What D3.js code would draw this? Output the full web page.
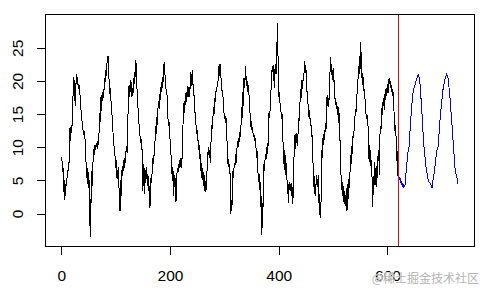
<!DOCTYPE html>
<html>
<head>
<meta charset="utf-8">
<script src="https://cdn.jsdelivr.net/npm/d3@7"></script>
<style>
  html, body { margin: 0; padding: 0; background: #fff; }
  svg { display: block; font-family: "Liberation Sans", Arial, sans-serif; }
</style>
</head>
<body>
<div id="chart"></div>
<script>
// observed weekly series (index 1..620)
const observed = [
  8.6, 6.2, 7.4, 3.2, 5.0, 2.0, 3.8, 2.6, 5.4, 4.2,
  6.6, 5.8, 7.8, 7.0, 10.4, 12.9, 11.0, 13.4, 12.2, 13.6,
  16.4, 19.0, 20.6, 17.0, 20.2, 16.2, 19.6, 21.1, 19.4, 20.6,
  19.2, 18.8, 19.4, 18.6, 16.8, 15.8, 15.0, 14.0, 13.4, 12.6,
  12.2, 11.8, 12.4, 10.4, 8.6, 6.8, 5.4, 6.8, 4.4, 6.2,
  3.8, 5.0, -3.6, 2.2, 1.6, 6.4, 4.2, 7.4, 8.6, 9.8,
  8.8, 10.4, 9.6, 10.2, 10.6, 9.8, 11.0, 10.4, 11.2, 14.0,
  15.2, 13.8, 17.6, 15.4, 18.2, 17.0, 18.8, 17.4, 19.6, 20.4,
  19.8, 21.6, 20.8, 22.6, 23.4, 23.8, 22.4, 19.6, 18.0, 19.0,
  17.2, 16.8, 15.4, 13.6, 12.4, 11.0, 10.2, 9.0, 8.6, 6.8,
  8.0, 5.4, 6.6, 5.2, 7.0, 4.0, 3.2, 0.4, 5.0, 2.6,
  6.6, 5.6, 7.2, 6.4, 8.0, 6.8, 8.4, 7.6, 9.4, 10.2,
  9.2, 13.0, 15.8, 19.2, 17.6, 18.8, 20.2, 18.4, 19.8, 17.6,
  19.0, 18.2, 20.4, 19.6, 21.4, 20.6, 23.2, 22.0, 19.4, 17.2,
  16.0, 14.8, 13.4, 12.6, 11.4, 10.6, 11.2, 10.4, 8.8, 3.4,
  5.6, 7.4, 3.0, 6.2, 4.6, 7.0, 5.2, 6.0, 4.8, 3.4,
  5.6, 0.8, 4.2, 1.2, 5.4, 4.6, 6.2, 7.6, 8.8, 7.4,
  9.8, 10.4, 11.8, 13.2, 12.0, 14.6, 13.4, 16.2, 17.0, 15.8,
  18.0, 17.2, 18.6, 19.8, 18.4, 20.6, 19.6, 22.6, 21.2, 22.8,
  20.4, 19.8, 18.2, 18.8, 16.6, 14.8, 13.2, 14.0, 12.0, 11.2,
  9.8, 8.6, 7.8, 5.0, 7.0, 2.6, 6.4, 4.0, 5.8, 2.8,
  1.8, 4.4, 6.4, 6.8, 6.2, 7.4, 6.8, 8.0, 7.0, 8.4,
  6.8, 8.2, 10.6, 13.8, 16.6, 15.2, 17.0, 16.4, 18.2, 16.8,
  18.4, 17.6, 19.2, 18.0, 17.6, 19.0, 18.8, 21.4, 19.2, 20.6,
  21.6, 19.8, 18.6, 18.0, 16.4, 15.2, 14.0, 13.2, 12.0, 12.6,
  11.2, 10.8, 9.6, 10.4, 8.2, 9.0, 6.4, 7.6, 5.0, 6.8,
  4.2, 6.2, 3.4, 5.8, 3.2, 4.8, 3.6, 6.4, 8.0, 9.4,
  10.0, 8.4, 9.6, 7.6, 10.2, 11.6, 13.4, 12.8, 14.6, 16.0,
  15.0, 17.4, 16.8, 17.8, 19.0, 18.4, 20.0, 19.6, 21.2, 22.2,
  20.8, 22.6, 21.4, 20.2, 19.6, 17.8, 18.6, 16.4, 15.6, 14.2,
  15.0, 13.6, 14.4, 13.2, 10.4, 8.6, 7.0, 8.2, 6.0, 7.4,
  3.4, 0.0, 2.0, 1.2, 3.6, 6.8, 5.4, 7.6, 6.8, 7.8,
  9.0, 7.6, 9.8, 10.2, 11.0, 10.0, 11.6, 10.8, 12.8, 11.6,
  14.6, 16.0, 14.4, 18.4, 16.2, 20.4, 19.0, 20.6, 22.2, 19.6,
  20.8, 18.4, 20.0, 18.8, 18.2, 17.0, 15.2, 14.6, 13.0, 14.0,
  12.2, 13.0, 11.6, 12.0, 11.0, 11.8, 10.6, 10.2, 8.4, 9.4,
  7.0, 6.0, 4.8, 6.0, 3.6, 4.8, 1.0, 2.6, -3.2, 1.6,
  0.8, 5.8, 7.6, 6.4, 8.8, 9.0, 8.2, 9.6, 10.6, 9.0,
  14.0, 15.2, 14.4, 15.6, 16.2, 19.4, 21.0, 22.2, 21.4, 22.4,
  20.4, 19.0, 21.6, 22.6, 21.0, 23.4, 26.4, 28.8, 21.0, 17.6,
  18.4, 17.0, 16.2, 15.4, 14.8, 14.2, 15.0, 10.0, 7.4, 9.6,
  6.6, 8.8, 5.8, 7.6, 5.2, 4.6, 3.0, 1.6, 4.8, 3.6,
  4.4, 3.4, 4.6, 2.6, 4.0, 1.4, 5.0, 8.4, 10.6, 12.0,
  9.8, 12.2, 10.6, 11.6, 10.2, 14.4, 13.4, 15.6, 16.6, 18.8,
  17.4, 20.2, 19.6, 18.8, 21.0, 20.0, 22.4, 23.0, 21.2, 22.0,
  19.6, 18.4, 17.8, 16.2, 15.4, 14.2, 15.6, 13.2, 14.2, 11.6,
  12.6, 8.4, 7.6, 4.0, 5.6, 3.0, 4.4, 2.6, 5.8, 4.6,
  5.2, 4.0, 5.8, 1.6, 3.0, -0.6, 0.4, 2.2, 9.6, 8.4,
  11.0, 12.0, 10.4, 12.6, 12.2, 13.6, 12.8, 16.6, 17.8, 16.2,
  17.4, 16.0, 18.6, 20.4, 23.6, 21.4, 22.6, 20.8, 21.6, 19.8,
  22.0, 19.2, 18.2, 16.4, 17.4, 15.8, 16.6, 14.8, 16.0, 13.6,
  15.2, 14.0, 9.8, 6.6, 5.2, 3.6, 4.8, 2.6, 4.2, 1.8,
  3.4, 1.2, 2.8, 0.4, 3.8, 0.6, 4.4, 2.2, 5.2, 3.8,
  6.0, 8.8, 7.4, 10.2, 9.0, 11.2, 12.0, 11.4, 13.6, 14.2,
  15.8, 15.0, 17.6, 18.0, 19.6, 20.4, 22.2, 21.0, 23.8, 21.8,
  25.9, 21.4, 20.4, 21.2, 19.4, 20.6, 18.0, 18.8, 16.6, 15.4,
  14.6, 14.2, 14.8, 13.4, 12.6, 8.2, 10.4, 7.4, 9.6, 6.2,
  8.0, 3.4, 1.0, 5.6, 3.2, 7.8, 4.6, 6.8, 4.0, 7.2,
  5.4, 8.4, 8.8, 9.6, 5.8, 11.6, 13.2, 12.4, 15.2, 16.0,
  14.8, 17.4, 16.2, 18.0, 15.6, 18.8, 17.2, 19.0, 18.4, 19.6,
  18.2, 19.8, 20.4, 19.6, 20.0, 19.0, 19.4, 18.6, 17.8, 18.8,
  16.4, 15.4, 14.6, 12.2, 13.4, 11.0, 8.0, 9.4, 5.6, 6.4
];

// forecast (index 621..730)
const forecast = [
  5.6, 5.0, 5.4, 4.6, 4.9, 4.3, 4.6, 4.0, 4.4, 3.8,
  4.2, 4.0, 4.9, 6.0, 7.0, 7.8, 8.6, 9.4, 9.8, 10.1,
  11.8, 13.2, 14.4, 15.6, 16.6, 17.4, 18.2, 18.7, 19.0, 19.3,
  19.5, 19.9, 20.2, 20.4, 20.7, 20.8, 21.1, 20.6, 20.2, 19.4,
  18.2, 17.0, 15.8, 14.2, 12.8, 11.4, 10.2, 9.2, 8.5, 7.6,
  7.0, 6.4, 6.0, 5.4, 5.0, 4.8, 4.7, 4.6, 4.4, 4.3,
  4.1, 3.8, 4.4, 5.2, 5.6, 6.2, 6.8, 7.6, 8.4, 9.0,
  9.6, 9.9, 10.1, 11.0, 12.2, 13.4, 14.4, 15.4, 16.3, 17.0,
  17.9, 18.6, 19.2, 19.6, 20.0, 20.4, 20.6, 20.9, 21.1, 20.8,
  20.6, 20.2, 19.2, 18.2, 17.4, 16.4, 15.2, 14.2, 13.0, 11.8,
  10.6, 9.4, 8.2, 7.0, 6.4, 6.0, 5.6, 5.4, 4.8, 4.4
];

const splitAt = 620;
const xTicks = [0, 200, 400, 600];
const yTicks = [0, 5, 10, 15, 20, 25];
const watermark = "@稀土掘金技术社区";

const W = 483, H = 289;
const box = { left: 46, right: 474, top: 14, bottom: 246 };

const svg = d3.select("#chart").append("svg")
  .attr("width", W).attr("height", H);

const obsPts = observed.map((v, i) => [i + 1, v]);
const fcPts = forecast.map((v, i) => [observed.length + i + 1, v]);
const all = obsPts.concat(fcPts);

// R style 4% padding
const pad = (ext) => {
  const d = (ext[1] - ext[0]) * 0.04;
  return [ext[0] - d, ext[1] + d];
};

const x = d3.scaleLinear()
  .domain(pad(d3.extent(all, d => d[0])))
  .range([box.left, box.right]);
const y = d3.scaleLinear()
  .domain(pad(d3.extent(all, d => d[1])))
  .range([box.bottom, box.top]);

const line = d3.line().x(d => x(d[0])).y(d => y(d[1]));

// aliased lines, like the R windows device
svg.append("path")
  .datum(obsPts)
  .attr("d", line)
  .attr("fill", "none")
  .attr("stroke", "#000")
  .attr("stroke-width", 1)
  .attr("shape-rendering", "crispEdges");

svg.append("path")
  .datum(fcPts)
  .attr("d", line)
  .attr("fill", "none")
  .attr("stroke", "#0000FF")
  .attr("stroke-width", 1)
  .attr("shape-rendering", "crispEdges");

// split marker
svg.append("line")
  .attr("x1", x(splitAt)).attr("x2", x(splitAt))
  .attr("y1", box.top).attr("y2", box.bottom)
  .attr("stroke", "#FF0000")
  .attr("stroke-width", 1)
  .attr("shape-rendering", "crispEdges");

// plot box
svg.append("rect")
  .attr("x", box.left - 0.5).attr("y", box.top + 0.5)
  .attr("width", box.right - box.left + 1)
  .attr("height", box.bottom - box.top)
  .attr("fill", "none")
  .attr("stroke", "#000")
  .attr("shape-rendering", "crispEdges");

// axes
const xAxis = d3.axisBottom(x).tickValues(xTicks).tickSize(9).tickPadding(0).tickFormat(d3.format("d"));
const yAxis = d3.axisLeft(y).tickValues(yTicks).tickSize(9).tickPadding(0).tickFormat(d3.format("d"));

const gx = svg.append("g")
  .attr("transform", `translate(0,${box.bottom})`)
  .call(xAxis);
gx.select(".domain").remove();
gx.selectAll("line").attr("stroke", "#000").attr("shape-rendering", "crispEdges");
gx.selectAll("text")
  .attr("y", 35).attr("dy", null)
  .attr("fill", "#000")
  .style("font-size", "15.5px");

const gy = svg.append("g")
  .attr("transform", `translate(${box.left},0)`)
  .call(yAxis);
gy.select(".domain").remove();
gy.selectAll("line").attr("stroke", "#000").attr("shape-rendering", "crispEdges");
gy.selectAll("text")
  .attr("x", null).attr("dy", null)
  .attr("text-anchor", "middle")
  .attr("transform", "translate(-23,0) rotate(-90)")
  .attr("fill", "#000")
  .style("font-size", "15.5px");

svg.append("text")
  .attr("x", 479).attr("y", 283)
  .attr("text-anchor", "end")
  .attr("font-family", "'Noto Sans CJK SC', sans-serif")
  .attr("font-size", 12)
  .attr("fill", "#b3b3b3")
  .attr("stroke", "#fff")
  .attr("stroke-width", 0.6)
  .attr("paint-order", "stroke")
  .text(watermark);
</script>
</body>
</html>
